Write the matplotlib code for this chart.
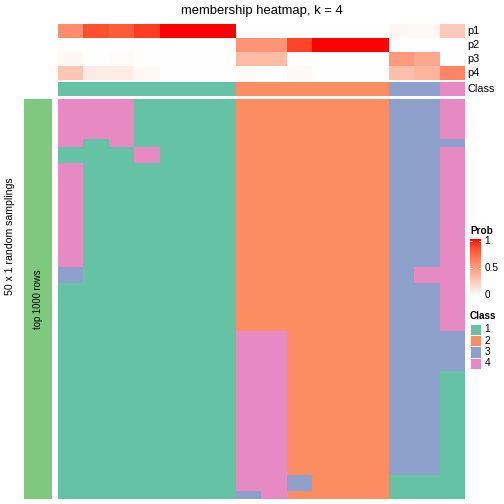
import numpy as np
import matplotlib as mpl

mpl.use("Agg")
import matplotlib.pyplot as plt
from matplotlib.colors import ListedColormap, LinearSegmentedColormap
from matplotlib.patches import Rectangle

plt.rcParams["font.family"] = ["Liberation Sans", "DejaVu Sans"]

W, H = 504, 504

# membership probabilities per sample (16 columns)
p1 = [0.58, 0.84, 0.80, 0.90, 1.0, 1.0, 1.0, 0, 0, 0, 0, 0, 0, 0.04, 0.04, 0.28]
p2 = [0, 0, 0, 0, 0, 0, 0, 0.55, 0.55, 0.88, 1.0, 1.0, 1.0, 0, 0, 0]
p3 = [0.04, 0, 0.02, 0, 0, 0, 0, 0.35, 0.35, 0, 0, 0, 0, 0.52, 0.45, 0]
p4 = [0.30, 0.10, 0.10, 0.04, 0, 0, 0, 0.02, 0, 0.03, 0, 0, 0, 0.33, 0.38, 0.62]
sample_class = [1, 1, 1, 1, 1, 1, 1, 2, 2, 2, 2, 2, 2, 3, 3, 4]

# class label of every random sampling (rows) for each sample, as (row, repeat)
sampling_runs = [
    ("4441111222222334", 5),
    ("4141111222222333", 1),
    ("1114111222222334", 2),
    ("4111111222222334", 13),
    ("3111111222222344", 2),
    ("1111111222222334", 6),
    ("1111111442222333", 5),
    ("1111111442222331", 13),
    ("1111111443222111", 2),
    ("1111111342222111", 1),
]

prob_names = ["p1", "p2", "p3", "p4"]
class_labels = ["1", "2", "3", "4"]
class_colors = ["#66C2A5", "#FC8D62", "#8DA0CB", "#E78AC3"]
block_color = "#7FC97F"


def lab_to_rgb(L, a, b):
    fy = (L + 16) / 116
    fx = fy + a / 500
    fz = fy - b / 200

    def finv(t):
        return t ** 3 if t > 6 / 29 else 3 * (6 / 29) ** 2 * (t - 4 / 29)

    X, Y, Z = 0.95047 * finv(fx), finv(fy), 1.08883 * finv(fz)
    r = 3.2406 * X - 1.5372 * Y - 0.4986 * Z
    g = -0.9689 * X + 1.8758 * Y + 0.0415 * Z
    bb = 0.0557 * X - 0.2040 * Y + 1.0570 * Z

    def gam(c):
        c = min(max(c, 0), 1)
        return 12.92 * c if c <= 0.0031308 else 1.055 * c ** (1 / 2.4) - 0.055

    return gam(r), gam(g), gam(bb)


# white -> red ramp interpolated in LAB space
white_lab = np.array([100.0, 0.0, 0.0])
red_lab = np.array([53.24, 80.09, 67.20])
ramp = [lab_to_rgb(*(white_lab + t * (red_lab - white_lab))) for t in np.linspace(0, 1, 64)]
prob_cmap = LinearSegmentedColormap.from_list("prob", ramp)
class_cmap = ListedColormap(class_colors)

fig = plt.figure(figsize=(W / 72, H / 72), dpi=72)


def px_axes(x0, y0, x1, y1):
    ax = fig.add_axes([x0 / W, 1 - y1 / H, (x1 - x0) / W, (y1 - y0) / H])
    ax.set_axis_off()
    return ax


X0, X1 = 57.7, 464.3

# probability annotation
ax_p = px_axes(X0, 24, X1, 80)
ax_p.imshow(np.array([p1, p2, p3, p4]), cmap=prob_cmap, vmin=0, vmax=1,
            aspect="auto", interpolation="nearest")
for i, name in enumerate(prob_names):
    fig.text((X1 + 3) / W, 1 - (24 + 14 * i + 7.5) / H, name,
             fontsize=11, va="center", ha="left")

# class annotation
ax_c = px_axes(X0, 82, X1, 96)
ax_c.imshow(np.array([sample_class]) - 1, cmap=class_cmap, vmin=-0.5, vmax=3.5,
            aspect="auto", interpolation="nearest")
fig.text((X1 + 3) / W, 1 - 89.5 / H, "Class", fontsize=11, va="center", ha="left")

# main body: class of each sampling
rows = []
for pattern, n in sampling_runs:
    rows += [[int(ch) for ch in pattern]] * n
mat = np.array(rows)
ax_m = px_axes(X0, 99, X1, 498.7)
ax_m.imshow(mat - 1, cmap=class_cmap, vmin=-0.5, vmax=3.5,
            aspect="auto", interpolation="nearest")

# left block annotation
ax_b = px_axes(24, 99, 52, 498.7)
ax_b.add_patch(Rectangle((0, 0), 1, 1, color=block_color, transform=ax_b.transAxes))
ax_b.text(0.5, 0.5, "top 1000 rows", rotation=90, fontsize=9.5,
          ha="center", va="center", transform=ax_b.transAxes)

fig.text(10 / W, 1 - 236 / H, "50 x 1 random samplings", rotation=90,
         fontsize=10.5, ha="center", va="center")
fig.text(261.5 / W, 1 - 11 / H, "membership heatmap, k = 4",
         fontsize=13, ha="center", va="center")

# Prob legend
fig.text(470 / W, 1 - 231 / H, "Prob", fontsize=10, fontweight="bold",
         ha="left", va="center")
ax_l = px_axes(470, 239, 481, 297)
grad = np.linspace(1, 0, 100).reshape(-1, 1)
ax_l.imshow(grad, cmap=prob_cmap, vmin=0, vmax=1, aspect="auto",
            extent=[0, 1, 0, 1])
ax_l.set_xlim(0, 1)
ax_l.set_ylim(0, 1)
for v in [0.5, 0.96]:
    ax_l.plot([0, 0.2], [v, v], color="white", lw=0.8)
    ax_l.plot([0.8, 1], [v, v], color="white", lw=0.8)
for v, lab in [(1, "1"), (0.5, "0.5"), (0, "0")]:
    ax_l.text(1.3, min(max(v, 0.04), 0.96), lab, fontsize=10,
              va="center", ha="left", transform=ax_l.transAxes)

# Class legend
fig.text(470 / W, 1 - 316 / H, "Class", fontsize=10, fontweight="bold",
         ha="left", va="center")
ax_k = px_axes(470, 323.5, 481, 369)
for i, (lab, col) in enumerate(zip(class_labels, class_colors)):
    ax_k.add_patch(Rectangle((0, 3 - i), 1, 1, facecolor=col, edgecolor="white", lw=0.8))
    ax_k.text(1.3, 3.5 - i, lab, fontsize=10, va="center", ha="left")
ax_k.set_xlim(0, 1)
ax_k.set_ylim(0, 4)

fig.savefig("out.png", dpi=72)
